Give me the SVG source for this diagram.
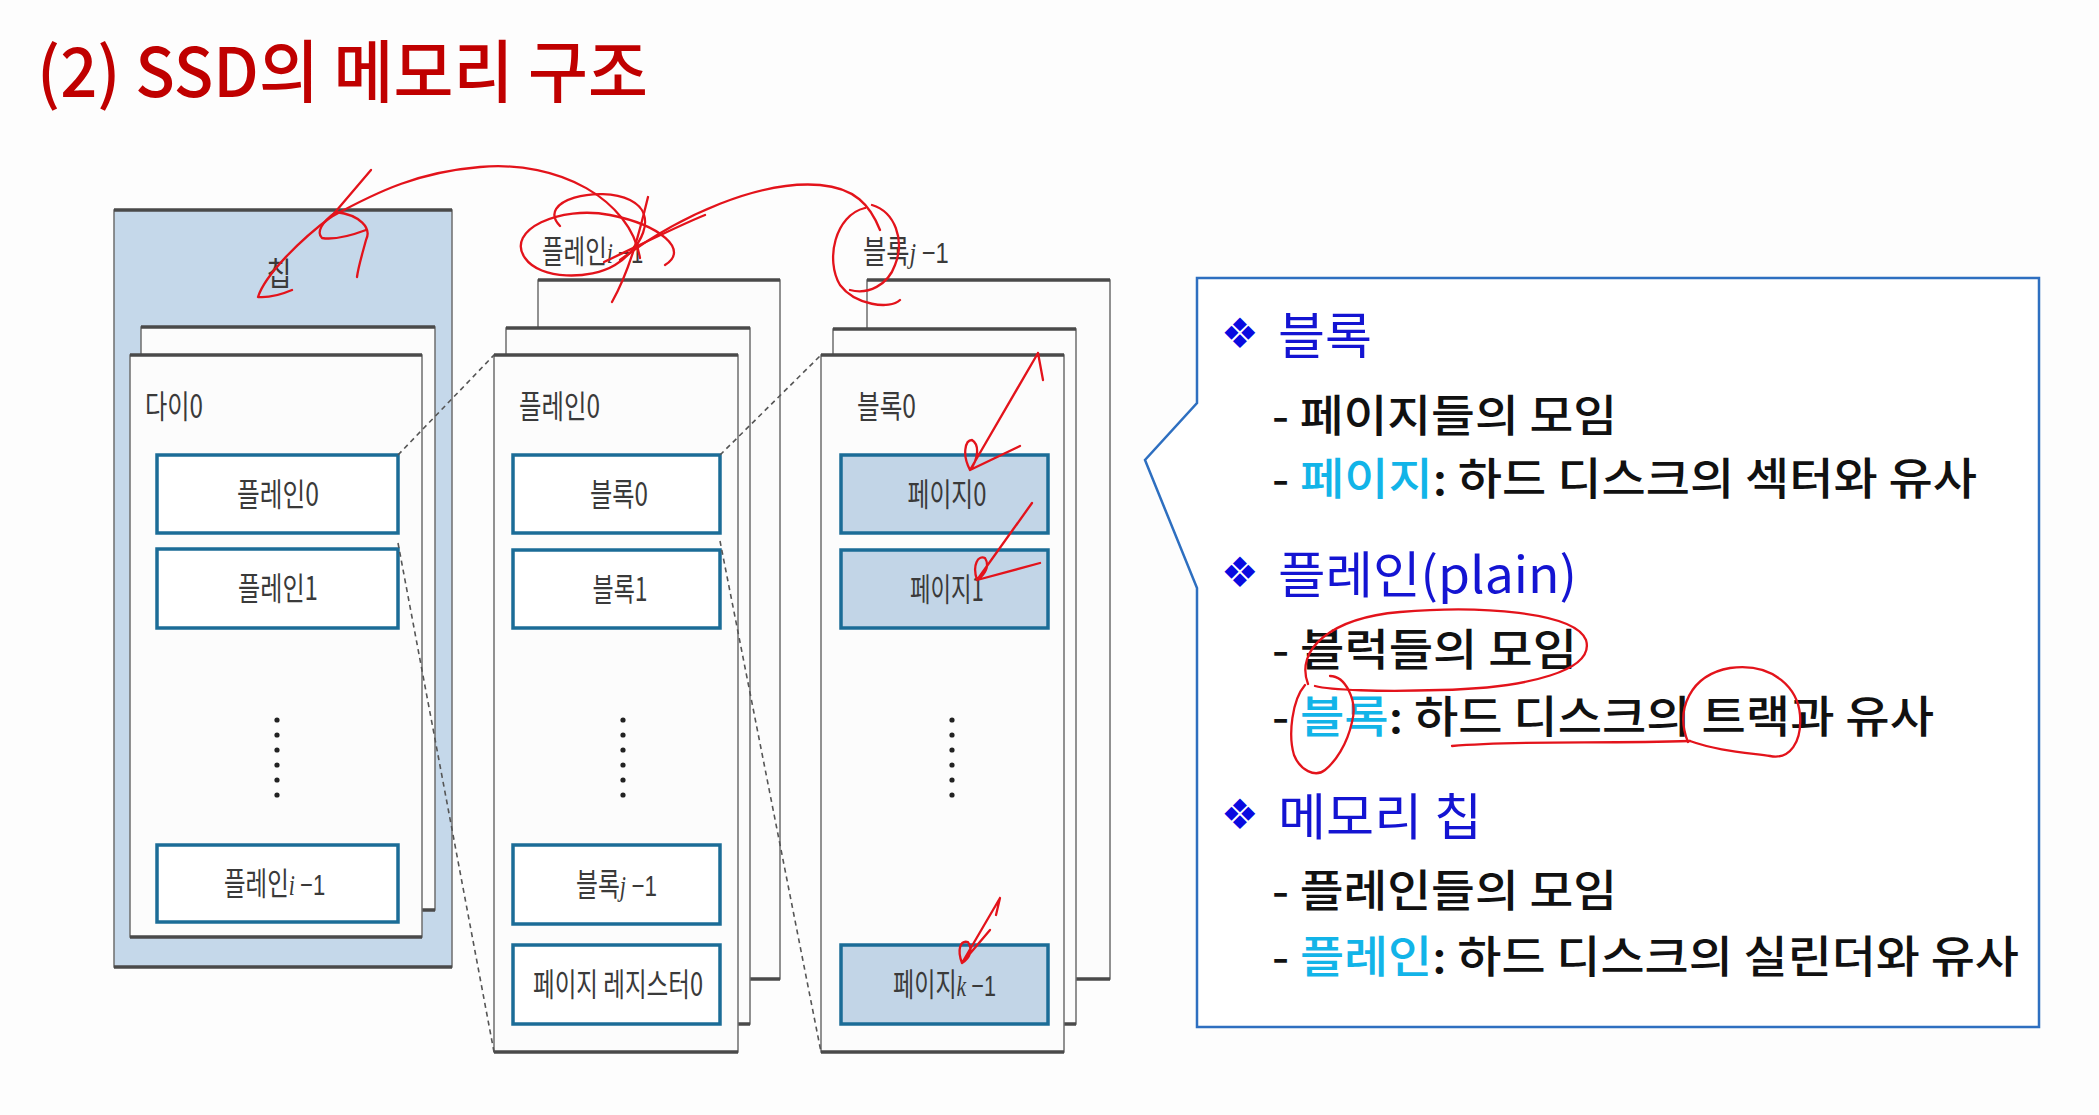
<svg xmlns="http://www.w3.org/2000/svg" width="2099" height="1115" viewBox="0 0 2099 1115">
<style>
.bg{fill:#FDFDFD}
.outer{fill:#FCFCFC;stroke:#6E6E6E;stroke-width:1.5}
.chip{fill:#C5D8EA;stroke:#6E6E6E;stroke-width:1.5}
.edge{stroke:#4A4A4A;stroke-width:3.5;fill:none}
.inner{fill:#FFFFFF;stroke:#1B6C97;stroke-width:3.5}
.page{fill:#C2D5E7;stroke:#1B6C97;stroke-width:3.5}
.lbl{font-family:"Noto Sans CJK KR","Noto Sans",sans-serif;font-size:32px;fill:#3A3A3A}
.mid{text-anchor:middle}
.it{font-family:"Liberation Serif",serif;font-style:italic;font-size:30px}
.num{font-family:"Liberation Sans",sans-serif;font-size:30px}
.dash{stroke:#555;stroke-width:1.6;stroke-dasharray:5 4;fill:none}
.dot{fill:#222}
.red{fill:none;stroke:#E3131B;stroke-width:2.3;stroke-linecap:round;stroke-linejoin:round}
.head{font-family:"Noto Sans CJK KR","Noto Sans",sans-serif;font-size:50px;fill:#1414D2}
.dia{font-family:"DejaVu Sans",sans-serif;font-size:42px;fill:#0A0AE0}
.body{font-family:"Noto Sans CJK KR","Noto Sans",sans-serif;font-size:44px;font-weight:500;fill:#111}
.cy{fill:#12B4E8}
</style>
<rect class="bg" x="0" y="0" width="2099" height="1115"/>

<text id="title" x="37" y="97" textLength="611" lengthAdjust="spacingAndGlyphs" style="font-family:'Noto Sans CJK KR','Noto Sans',sans-serif;font-size:68px;font-weight:500;fill:#C00000">(2) SSD의 메모리 구조</text>

<!-- Chip -->
<g id="chip">
  <rect class="chip" x="114" y="210" width="338" height="757"/>
  <line class="edge" x1="114" y1="210" x2="452" y2="210"/>
  <line class="edge" x1="114" y1="967" x2="452" y2="967"/>
  <text class="lbl mid" x="279" y="285" textLength="25" lengthAdjust="spacingAndGlyphs">칩</text>
</g>

<g id="die">
  <rect class="outer" x="141" y="327" width="294" height="583"/>
  <line class="edge" x1="141" y1="327" x2="435" y2="327"/>
  <line class="edge" x1="422" y1="910" x2="435" y2="910"/>
  <rect class="outer" x="130" y="355" width="292" height="582"/>
  <line class="edge" x1="130" y1="355" x2="422" y2="355"/>
  <line class="edge" x1="130" y1="937" x2="422" y2="937"/>
  <text class="lbl" x="145" y="418" textLength="58" lengthAdjust="spacingAndGlyphs">다이0</text>
</g>

<g id="die-plane0">
  <rect class="inner" x="157" y="455" width="241" height="78"/>
  <text class="lbl mid" x="278" y="506" textLength="82" lengthAdjust="spacingAndGlyphs">플레인0</text>
</g>
<g id="die-plane1">
  <rect class="inner" x="157" y="549" width="241" height="79"/>
  <text class="lbl mid" x="278" y="600" textLength="80" lengthAdjust="spacingAndGlyphs">플레인1</text>
</g>
<g id="die-dots">
  <circle class="dot" cx="277" cy="720" r="2.6"/><circle class="dot" cx="277" cy="735" r="2.6"/><circle class="dot" cx="277" cy="750" r="2.6"/><circle class="dot" cx="277" cy="765" r="2.6"/><circle class="dot" cx="277" cy="780" r="2.6"/><circle class="dot" cx="277" cy="795" r="2.6"/>
</g>
<g id="die-planeN">
  <rect class="inner" x="157" y="845" width="241" height="77"/>
  <text class="lbl" transform="translate(224,895) scale(0.733,1)">플레인<tspan class="it">i</tspan> <tspan class="num">−1</tspan></text>
</g>

<!-- Plane stack -->
<g id="plane-stack">
  <text class="lbl" transform="translate(542,263) scale(0.733,1)">플레인<tspan class="it">i</tspan> <tspan class="num">−1</tspan></text>
  <rect class="outer" x="538" y="280" width="242" height="699"/>
  <line class="edge" x1="538" y1="280" x2="780" y2="280"/>
  <line class="edge" x1="750" y1="979" x2="780" y2="979"/>
  <rect class="outer" x="506" y="328" width="244" height="696"/>
  <line class="edge" x1="506" y1="328" x2="750" y2="328"/>
  <line class="edge" x1="738" y1="1024" x2="750" y2="1024"/>
  <rect class="outer" x="494" y="355" width="244" height="697"/>
  <line class="edge" x1="494" y1="355" x2="738" y2="355"/>
  <line class="edge" x1="494" y1="1052" x2="738" y2="1052"/>
  <text class="lbl" x="519" y="418" textLength="81" lengthAdjust="spacingAndGlyphs">플레인0</text>
</g>
<g id="block0">
  <rect class="inner" x="513" y="455" width="207" height="78"/>
  <text class="lbl mid" x="619" y="506" textLength="58" lengthAdjust="spacingAndGlyphs">블록0</text>
</g>
<g id="block1">
  <rect class="inner" x="513" y="550" width="207" height="78"/>
  <text class="lbl mid" x="620" y="601" textLength="55" lengthAdjust="spacingAndGlyphs">블록1</text>
</g>
<g id="plane-dots">
  <circle class="dot" cx="623" cy="720" r="2.6"/><circle class="dot" cx="623" cy="735" r="2.6"/><circle class="dot" cx="623" cy="750" r="2.6"/><circle class="dot" cx="623" cy="765" r="2.6"/><circle class="dot" cx="623" cy="780" r="2.6"/><circle class="dot" cx="623" cy="795" r="2.6"/>
</g>
<g id="blockN">
  <rect class="inner" x="513" y="845" width="207" height="79"/>
  <text class="lbl" transform="translate(576,896) scale(0.745,1)">블록<tspan class="it">j</tspan> <tspan class="num">−1</tspan></text>
</g>
<g id="page-register">
  <rect class="inner" x="513" y="945" width="207" height="79"/>
  <text class="lbl mid" x="618" y="996" textLength="170" lengthAdjust="spacingAndGlyphs">페이지 레지스터0</text>
</g>

<!-- Block stack -->
<g id="block-stack">
  <text class="lbl" transform="translate(863,263) scale(0.79,1)">블록<tspan class="it">j</tspan> <tspan class="num">−1</tspan></text>
  <rect class="outer" x="867" y="280" width="243" height="699"/>
  <line class="edge" x1="867" y1="280" x2="1110" y2="280"/>
  <line class="edge" x1="1076" y1="979" x2="1110" y2="979"/>
  <rect class="outer" x="833" y="329" width="243" height="695"/>
  <line class="edge" x1="833" y1="329" x2="1076" y2="329"/>
  <line class="edge" x1="1064" y1="1024" x2="1076" y2="1024"/>
  <rect class="outer" x="821" y="355" width="243" height="697"/>
  <line class="edge" x1="821" y1="355" x2="1064" y2="355"/>
  <line class="edge" x1="821" y1="1052" x2="1064" y2="1052"/>
  <text class="lbl" x="857" y="418" textLength="59" lengthAdjust="spacingAndGlyphs">블록0</text>
</g>
<g id="page0">
  <rect class="page" x="841" y="455" width="207" height="78"/>
  <text class="lbl mid" x="947" y="506" textLength="79" lengthAdjust="spacingAndGlyphs">페이지0</text>
</g>
<g id="page1">
  <rect class="page" x="841" y="550" width="207" height="78"/>
  <text class="lbl mid" x="947" y="601" textLength="74" lengthAdjust="spacingAndGlyphs">페이지1</text>
</g>
<g id="block-dots">
  <circle class="dot" cx="952" cy="720" r="2.6"/><circle class="dot" cx="952" cy="735" r="2.6"/><circle class="dot" cx="952" cy="750" r="2.6"/><circle class="dot" cx="952" cy="765" r="2.6"/><circle class="dot" cx="952" cy="780" r="2.6"/><circle class="dot" cx="952" cy="795" r="2.6"/>
</g>
<g id="pageN">
  <rect class="page" x="841" y="945" width="207" height="79"/>
  <text class="lbl" transform="translate(893,996) scale(0.72,1)">페이지<tspan class="it">k</tspan> <tspan class="num">−1</tspan></text>
</g>

<!-- Connectors -->
<g id="connectors">
  <line class="dash" x1="398" y1="455" x2="494" y2="355"/>
  <line class="dash" x1="398" y1="543" x2="494" y2="1052"/>
  <line class="dash" x1="720" y1="455" x2="821" y2="355"/>
  <line class="dash" x1="720" y1="541" x2="821" y2="1052"/>
</g>

<!-- Callout panel -->
<g id="panel">
  <path d="M1197,278 H2039 V1027 H1197 V588 L1145,460 L1197,403 Z" fill="#FFFFFF" stroke="#2E6FC0" stroke-width="2.5"/>
  <text class="dia" x="1221" y="348">❖</text>
  <text class="head" x="1278" y="354" textLength="94" lengthAdjust="spacingAndGlyphs">블록</text>
  <text class="body" x="1272" y="432" textLength="345" lengthAdjust="spacingAndGlyphs">- 페이지들의 모임</text>
  <text class="body" x="1272" y="495" textLength="705" lengthAdjust="spacingAndGlyphs">- <tspan class="cy">페이지</tspan>: 하드 디스크의 섹터와 유사</text>
  <text class="dia" x="1221" y="587">❖</text>
  <text class="head" x="1278" y="593" textLength="299" lengthAdjust="spacingAndGlyphs">플레인(plain)</text>
  <text class="body" x="1272" y="666" textLength="305" lengthAdjust="spacingAndGlyphs">- 블럭들의 모임</text>
  <text class="body" x="1272" y="733" textLength="662" lengthAdjust="spacingAndGlyphs">- <tspan class="cy">블록</tspan>: 하드 디스크의 트랙과 유사</text>
  <text class="dia" x="1221" y="829">❖</text>
  <text class="head" x="1278" y="835" textLength="204" lengthAdjust="spacingAndGlyphs">메모리 칩</text>
  <text class="body" x="1272" y="907" textLength="345" lengthAdjust="spacingAndGlyphs">- 플레인들의 모임</text>
  <text class="body" x="1272" y="973" textLength="747" lengthAdjust="spacingAndGlyphs">- <tspan class="cy">플레인</tspan>: 하드 디스크의 실린더와 유사</text>
</g>

<!-- Handwritten annotations -->
<g id="annotations">
  <path class="red" d="M640,258 C630,200 560,160 480,167 C420,172 380,190 331,217"/>
  <path class="red" d="M331,217 L371,170"/>
  <path class="red" d="M331,217 C300,240 265,275 258,297 C270,298 285,293 292,290"/>
  <path class="red" d="M336,212 C360,215 372,228 366,240 C362,255 358,268 357,277"/>
  <path class="red" d="M336,212 C322,222 316,232 322,238 C334,240 350,236 366,230"/>
  <path class="red" d="M560,226 C535,200 600,185 630,200 C660,215 640,250 615,265 C590,280 540,280 525,258 C505,230 560,205 610,215 C660,225 690,250 665,265"/>
  <path class="red" d="M648,197 C640,230 630,270 612,302"/>
  <path class="red" d="M604,262 C640,245 680,225 705,215"/>
  <path class="red" d="M620,260 C680,215 760,180 820,185 C855,188 870,205 880,230"/>
  <path class="red" d="M865,208 C835,215 825,260 840,285 C855,305 890,310 900,300"/>
  <path class="red" d="M872,205 C895,212 905,240 895,265 C888,285 868,295 850,290"/>
  <path class="red" d="M1038,353 L970,470 M1038,353 L1043,380 M970,470 C962,455 965,440 972,440 C980,445 978,460 970,470 L1020,446"/>
  <path class="red" d="M1032,503 L977,580 M977,580 C972,565 978,555 985,558 C990,566 985,575 977,580 L1040,563"/>
  <path class="red" d="M1000,898 L962,963 M1000,898 L996,915 M962,963 C957,950 960,940 968,942 C973,950 970,958 962,963 L990,930"/>
  <path class="red" d="M1308,684 C1295,650 1330,618 1400,612 C1480,605 1575,612 1586,640 C1595,670 1530,688 1440,690 C1380,692 1330,690 1315,686"/>
  <path class="red" d="M1330,676 C1345,676 1358,700 1352,722 C1347,745 1335,762 1325,770 C1315,778 1300,770 1294,755 C1288,735 1292,700 1305,685"/>
  <path class="red" d="M1452,746 C1520,740 1600,744 1690,741"/>
  <path class="red" d="M1688,742 C1675,710 1690,675 1730,668 C1775,662 1798,690 1800,715 C1802,742 1790,760 1770,756 C1740,752 1715,750 1690,741"/>
</g>
</svg>
